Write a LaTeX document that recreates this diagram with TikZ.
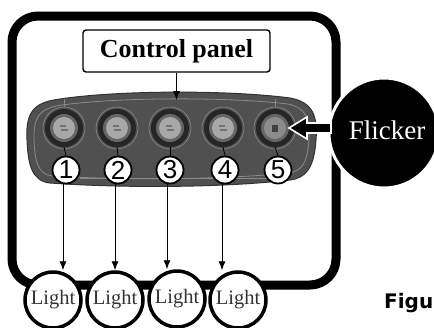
\documentclass[tikz,border=0pt]{standalone}
\usepackage{fontspec}
\setmainfont{Liberation Serif}
\newfontfamily\numfont{Liberation Sans}
\newfontfamily\capfont{DejaVu Sans}
\usetikzlibrary{arrows.meta}
\definecolor{panelgray}{HTML}{505050}
\definecolor{rimgray}{HTML}{8A8A8A}
\definecolor{capgray}{HTML}{A8A8A8}
\definecolor{lighttext}{HTML}{333333}
\tikzset{
  frame/.style={line width=9pt, rounded corners=26pt},
  labelbox/.style={draw, line width=1.4pt, rounded corners=3pt, fill=white,
    minimum width=187pt, minimum height=42pt, inner sep=0pt,
    font=\fontsize{26}{26}\selectfont\bfseries},
  numcircle/.style={circle, draw, line width=1.8pt, fill=white, minimum size=27pt,
    inner sep=0pt, font=\numfont\fontsize{26}{26}\selectfont},
  lightcircle/.style={circle, draw, line width=3.5pt, fill=white, minimum size=56pt,
    inner sep=0pt, text=lighttext, font=\fontsize{20.5}{20.5}\selectfont},
  flickcircle/.style={circle, draw=white, line width=3pt, fill=black, minimum size=110pt,
    inner sep=0pt},
  feed/.style={line width=0.9pt, -{Latex[length=9pt,width=7pt]}},
  thin/.style={line width=0.8pt},
}
\begin{document}
\begin{tikzpicture}[x=1pt, y=-1pt]
\clip (0,0) rectangle (434,327);
\fill[white] (0,0) rectangle (434,327);

% outer frame
\draw[frame] (12,16) rectangle (336,285);

% label and its pointer
\node[labelbox] (cp) at (176.5,51) {Control panel};

% switch panel body
\fill[panelgray, draw=black!80, line width=1pt]
  (27,140) .. controls (25,108) and (38,102) .. (60,99)
  .. controls (120,90) and (230,90) .. (290,98)
  .. controls (312,102) and (318,115) .. (316,140)
  .. controls (314,168) and (306,178) .. (290,180)
  .. controls (220,188) and (120,188) .. (50,183)
  .. controls (32,181) and (28,165) .. (27,140);
\draw[rimgray, line width=0.8pt]
  (34,140) .. controls (33,112) and (44,108) .. (62,105)
  .. controls (120,97) and (230,97) .. (288,104)
  .. controls (306,108) and (310,118) .. (309,140)
  .. controls (307,164) and (302,171) .. (288,173)
  .. controls (220,180) and (120,180) .. (52,176)
  .. controls (38,174) and (35,162) .. (34,140);
\draw[rimgray, line width=0.6pt] (80,178) -- (270,178);
\coordinate (ptop) at (176.5,100);
\draw[feed] (cp.south) -- (ptop);

% switches
\foreach \i/\x in {1/64, 2/117, 3/170, 4/223} {
  \fill[black!85] (\x,128) circle (19pt);
  \draw[rimgray, line width=0.6pt] (\x,128) circle (21pt);
  \fill[black!60] (\x,128) circle (14pt);
  \fill[capgray] (\x,128) circle (11pt);
  \draw[black!55, line width=1.1pt] (\x-4,126) -- (\x+2,126) (\x-3,130) -- (\x+4,130);
  \coordinate (b\i) at (\x,128);
}
\fill[black!85] (275,128) circle (19pt);
\draw[rimgray, line width=0.6pt] (275,128) circle (21pt);
\fill[black!60] (275,128) circle (14pt);
\fill[black!45] (275,128) circle (11pt);
\fill[black!75] (272,125) rectangle (278,132);
\coordinate (b5) at (275,128);

% panel edge ticks above the outer switches
\draw[rimgray, thin] (64,99) -- (64,107);
\draw[rimgray, thin] (275,99) -- (275,107);

% switch numbers
\node[numcircle] (n1) at (66,170) {1};
\node[numcircle] (n2) at (118,170) {2};
\node[numcircle] (n3) at (170,170) {3};
\node[numcircle] (n4) at (225,170) {4};
\node[numcircle] (n5) at (278,170) {5};
\foreach \i in {1,...,5} { \draw[thin] (b\i) ++(0,19) -- (n\i.north); }

% lamps
\node[lightcircle] (l1) at (53,300) {Light};
\node[lightcircle] (l2) at (115,300) {Light};
\node[lightcircle] (l3) at (177,299) {Light};
\node[lightcircle] (l4) at (238,300) {Light};
\foreach \i in {1,...,4} { \draw[feed] ([xshift=-3pt]n\i.south) -- ([xshift=-3pt]n\i.south |- l\i.north); }

% flicker callout
\node[flickcircle] (fl) at (384,133) {};
\node[text=white, font=\fontsize{27}{27}\selectfont] at (387,130) {Flicker};
\coordinate (tip) at (289,128);
\filldraw[black, draw=white, line width=1.6pt]
  (tip) -- ++(18,-11) -- ++(0,6) -- ++(24,0) -- ++(0,10) -- ++(-24,0) -- ++(0,6) -- cycle;

% caption
\node[anchor=base west, inner sep=0pt, font=\capfont\bfseries\fontsize{20}{20}\selectfont] (cap) at (384,308) {Figu};
\end{tikzpicture}
\end{document}
